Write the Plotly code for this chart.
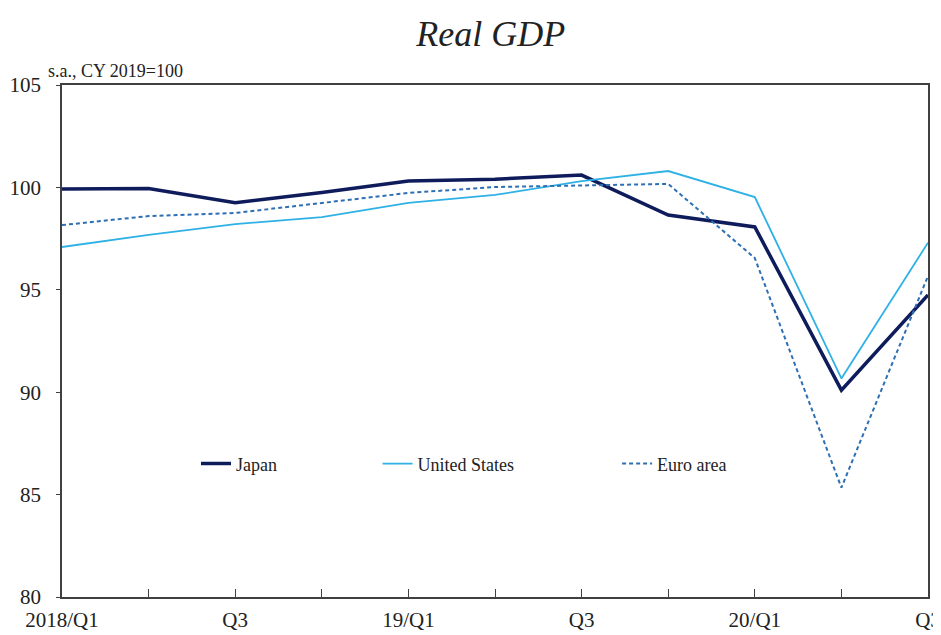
import plotly.graph_objects as go

quarters = ["2018/Q1", "2018/Q2", "2018/Q3", "2018/Q4", "2019/Q1", "2019/Q2",
            "2019/Q3", "2019/Q4", "2020/Q1", "2020/Q2", "2020/Q3"]
tick_text = ["2018/Q1", "", "Q3", "", "19/Q1", "", "Q3", "", "20/Q1", "", "Q3"]

japan = [99.92, 99.95, 99.25, 99.75, 100.31, 100.4, 100.6, 98.65, 98.07, 90.1, 94.75]
united_states = [97.09, 97.68, 98.21, 98.55, 99.24, 99.63, 100.31, 100.8, 99.53, 90.67, 97.3]
euro_area = [98.16, 98.6, 98.75, 99.24, 99.73, 100.02, 100.1, 100.17, 96.55, 85.34, 95.67]

FONT = "Liberation Serif, Times New Roman, serif"

fig = go.Figure()
fig.add_trace(go.Scatter(x=quarters, y=japan, mode="lines", name="Japan", showlegend=True,
                         line=dict(color="#0f1c5c", width=3.5), legend="legend"))
fig.add_trace(go.Scatter(x=quarters, y=united_states, mode="lines", name="United States",
                         showlegend=True,
                         line=dict(color="#2fb1e6", width=1.8), legend="legend2"))
fig.add_trace(go.Scatter(x=quarters, y=euro_area, mode="lines", name="Euro area",
                         showlegend=True,
                         line=dict(color="#2e6fb4", width=2, dash="4px,3px"), legend="legend3"))

leg_common = dict(orientation="h", yanchor="middle", xanchor="left", y=0.26, visible=True,
                  bgcolor="rgba(0,0,0,0)", font=dict(family=FONT, size=18, color="#222"))

fig.update_layout(
    width=933, height=627,
    showlegend=True,
    margin=dict(l=54, r=13, t=77, b=38),
    paper_bgcolor="white", plot_bgcolor="white",
    font=dict(family=FONT, color="#222"),
    title=dict(text="Real GDP", x=0.495, xref="paper", xanchor="center",
               y=0.959, yref="container", yanchor="middle",
               font=dict(family=FONT, size=36, style="italic", color="#222")),
    xaxis=dict(type="category", tickmode="array", tickvals=quarters, ticktext=tick_text,
               ticks="inside", ticklen=8, tickwidth=1.2, tickcolor="#404040",
               showline=True, linecolor="#404040", linewidth=1.5, mirror=True,
               showgrid=False, zeroline=False, range=[0, 10], automargin=False,
               tickfont=dict(family=FONT, size=21, color="#222"), ticklabelstandoff=3),
    yaxis=dict(range=[80, 105], dtick=5, tick0=80, ticks="outside", ticklen=4,
               tickwidth=1.2, tickcolor="#404040",
               showline=True, linecolor="#404040", linewidth=1.5, mirror=True,
               showgrid=False, zeroline=False, automargin=False,
               tickfont=dict(family=FONT, size=21, color="#222"), ticklabelstandoff=11),
    legend=dict(x=0.1547, **leg_common),
    legend2=dict(x=0.3644, **leg_common),
    legend3=dict(x=0.641, **leg_common),
    annotations=[dict(text="s.a., CY 2019=100", xref="paper", yref="paper",
                      x=-0.0185, y=1.0, xanchor="left", yanchor="bottom", yshift=2,
                      showarrow=False, font=dict(family=FONT, size=18, color="#222"))],
)

fig.write_html("out.html")
